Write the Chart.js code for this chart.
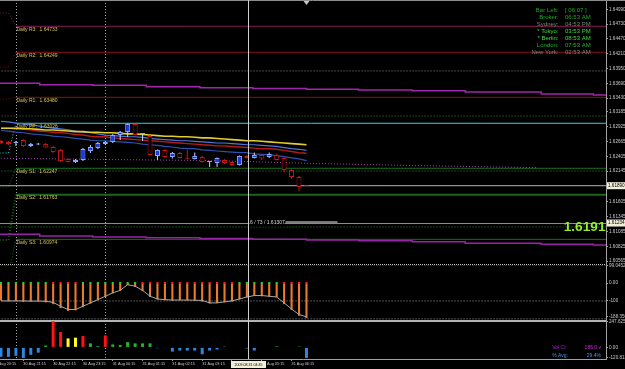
<!DOCTYPE html>
<html>
<head>
<meta charset="utf-8">
<script src="https://cdn.jsdelivr.net/npm/chart.js@4.4.0/dist/chart.umd.min.js"></script>
<style>
  html, body { margin: 0; padding: 0; background: #000; }
  canvas { display: block; background: #000; }
</style>
</head>
<body>
<canvas id="chart" width="625" height="369"></canvas>
<script>
// M15 candles, 30 Aug 20:30 -> 31 Aug 06:45 (bar index 0..41)
const barOpen  = [1.62676,1.62658,1.62640,1.62693,1.62588,1.62614,1.62623,1.62570,1.62518,1.62359,1.62307,1.62342,1.62500,1.62553,1.62623,1.62658,1.62781,1.62834,1.62974,1.62799,1.62763,1.62412,1.62518,1.62395,1.62465,1.62377,1.62359,1.62395,1.62307,1.62289,1.62342,1.62307,1.62254,1.62412,1.62377,1.62430,1.62395,1.62430,1.62377,1.62166,1.62043,1.61885];
const barHigh  = [1.62693,1.62676,1.62676,1.62711,1.62640,1.62640,1.62640,1.62588,1.62535,1.62368,1.62359,1.62553,1.62605,1.62658,1.62676,1.62799,1.62851,1.62983,1.62983,1.62807,1.62781,1.62526,1.62535,1.62482,1.62482,1.62518,1.62474,1.62412,1.62315,1.62386,1.62359,1.62315,1.62421,1.62430,1.62474,1.62438,1.62474,1.62447,1.62395,1.62184,1.62061,1.61894];
const barLow   = [1.62623,1.62605,1.62588,1.62570,1.62570,1.62605,1.62549,1.62465,1.62307,1.62298,1.62289,1.62325,1.62465,1.62535,1.62605,1.62640,1.62693,1.62746,1.62772,1.62676,1.62421,1.62342,1.62377,1.62368,1.62368,1.62351,1.62351,1.62298,1.62219,1.62219,1.62272,1.62237,1.62245,1.62368,1.62368,1.62342,1.62377,1.62333,1.62122,1.62008,1.61797,1.61876];
const barClose = [1.62640,1.62623,1.62642,1.62588,1.62623,1.62623,1.62561,1.62482,1.62325,1.62307,1.62342,1.62535,1.62570,1.62640,1.62658,1.62781,1.62834,1.62974,1.62781,1.62801,1.62430,1.62518,1.62395,1.62465,1.62377,1.62365,1.62412,1.62307,1.62309,1.62377,1.62289,1.62254,1.62412,1.62377,1.62430,1.62368,1.62447,1.62342,1.62166,1.62043,1.61867,1.61880];

// moving averages
const maYellow = [1.6290,1.6290,1.6290,1.6289,1.6289,1.6288,1.6287,1.6287,1.6286,1.6285,1.6284,1.6284,1.6283,1.6283,1.6282,1.6282,1.6281,1.6280,1.6280,1.6279,1.6278,1.6277,1.6276,1.6276,1.6275,1.6275,1.6274,1.6273,1.6273,1.6272,1.6271,1.6270,1.6269,1.6268,1.6268,1.6267,1.6266,1.6265,1.6264,1.6263,1.6262,1.6261];
const maRed    = [1.6290,1.6290,1.6289,1.6288,1.6287,1.6285,1.6284,1.6283,1.6282,1.6281,1.6279,1.6278,1.6276,1.6275,1.6275,1.6273,1.6272,1.6271,1.6270,1.6269,1.6268,1.6267,1.6266,1.6265,1.6264,1.6263,1.6262,1.6261,1.6260,1.6259,1.6259,1.6258,1.6257,1.6256,1.6255,1.6254,1.6254,1.6253,1.6251,1.6249,1.6247,1.6246];
const maBlueUp = [1.6302,1.6301,1.6299,1.6297,1.6296,1.6294,1.6292,1.6290,1.6289,1.6287,1.6285,1.6283,1.6282,1.6280,1.6278,1.6277,1.6276,1.6275,1.6275,1.6274,1.6272,1.6271,1.6270,1.6269,1.6268,1.6268,1.6267,1.6266,1.6265,1.6264,1.6264,1.6263,1.6262,1.6261,1.6261,1.6260,1.6259,1.6258,1.6256,1.6254,1.6253,1.6251];
const maBlueDn = [1.6286,1.6285,1.6283,1.6282,1.6280,1.6279,1.6278,1.6276,1.6275,1.6274,1.6272,1.6271,1.6269,1.6268,1.6268,1.6267,1.6266,1.6265,1.6264,1.6262,1.6261,1.6260,1.6258,1.6257,1.6255,1.6254,1.6254,1.6252,1.6251,1.6250,1.6249,1.6248,1.6247,1.6247,1.6245,1.6244,1.6243,1.6242,1.6240,1.6238,1.6236,1.6233];
const maPurpleBars = [0, 14, 27, 33, 41, 55, 72];
const maPurple     = [1.62372,1.62351,1.62333,1.62315,1.62284,1.62245,1.62207];

// higher timeframe band (stepped)
const bandBars  = [-0.2, 5.2, 12.3, 19.5, 26.7, 33.8, 41, 48, 55.2, 62.3, 72.5, 79.5];
const bandUpper = [1.63689,1.63665,1.63654,1.63630,1.63612,1.63598,1.63584,1.63572,1.63558,1.63537,1.63501,1.63484];
const bandLower = [1.61036,1.61006,1.60989,1.60975,1.60963,1.60948,1.60936,1.60922,1.60905,1.60878,1.60861,1.60848];

// daily pivots
const pivotNames = ['R3','R2','R1','PP','S1','S2','S3'];
const pivotPrev  = [1.64925,1.63976,1.63414,1.62465,1.61867,1.60936,1.60321];
const pivotNow   = [1.64691,1.64234,1.63443,1.62987,1.62196,1.61732,1.60948];
const pivotText  = ['1.64733','1.64249','1.63480','1.63026','1.62247','1.61763','1.60974'];

const grayLevels  = [1.63906];
const greenLevels = [1.63115,1.62148,1.61165];
const bidPrice   = 1.61890;
const crossPrice = 1.61234;
const crossBar   = 33.15;
const separatorBars = [2, 14];

// CCI window
const cciBars = [-98,-102,-100,-106,-104,-103,-108,-118,-140,-155,-152,-135,-115,-96,-78,-58,-44,-12,-22,-45,-78,-92,-96,-98,-96,-97,-99,-104,-114,-112,-108,-103,-92,-80,-72,-74,-76,-80,-118,-150,-182,-196];
const cciLine = [-100,-100,-100,-100,-101,-101,-102,-108,-130,-148,-148,-130,-111,-93,-74,-55,-41,-9,-18,-41,-74,-89,-93,-95,-95,-95,-96,-97,-111,-111,-105,-100,-89,-78,-70,-70,-74,-78,-111,-145,-176,-189];
const cciDir  = [1,1,1,1,1,1,1,-1,-1,-1,-1,1,1,1,1,1,1,1,1,-1,-1,-1,-1,-1,-1,-1,-1,-1,-1,-1,-1,-1,1,1,1,1,1,1,-1,-1,-1,-1];
const cciLevels = [100, -100, -200];

// volume window
const volValues = [-90,-90,-80,-100,-70,-50,18,247,145,85,92,108,38,12,114,28,22,50,38,38,38,-8,-6,-40,-30,-30,-30,-65,-30,-20,8,5,5,-10,-30,5,5,10,5,5,8,-100];
const volKind   = 'bbbbbbgrryyrggrggggggbbbbbbbbbgggbbggggggb'.split('');

// axis ticks
const priceTicks = [1.64990,1.64730,1.64470,1.64210,1.63950,1.63690,1.63430,1.63185,1.62925,1.62665,1.62405,1.62145,1.61885,1.61605,1.61345,1.61085,1.60825,1.60565];
const cciTicks   = [99.0452, 0, -100, -188.356];
const cciTickText = ['99.0452','0.00','-100','-188.356'];
const volTicks   = [247.6256, 0, -95];
const volTickText = ['247.6256','0.00','-120.813'];
const timeTickBars = [-1,3,7,11,15,19,23,27,31,35,39];
const timeLabels = ['30 Aug 20:15','30 Aug 21:15','30 Aug 22:15','30 Aug 23:15','31 Aug 00:15','31 Aug 01:15','31 Aug 02:15','31 Aug 03:15','31 Aug 04:15','31 Aug 05:15','31 Aug 06:15'];
const crossTimeText = '2009.08.31 04:45';

const clockNames  = ['Bar Left:','Broker:','Sydney:','* Tokyo:','* Berlin:','London:','New York:'];
const clockValues = ['[ 06:07 ]','06:53 AM','04:53 PM','03:53 PM','08:53 AM','07:53 AM','02:53 AM'];
const clockColors = ['#22aa22','#22aa22','#6e8a6e','#3ede3e','#3ede3e','#2aae2a','#788878'];

const FONT = '"Liberation Sans", Arial, sans-serif';
const xMin = -0.134, xMax = 81.2;
const idx = barOpen.map((_, i) => i);
const bull = i => barClose[i] >= barOpen[i];
const pts = (arr) => idx.map(i => ({ x: i, y: arr[i] }));
const flat = (v) => [{ x: xMin - 1, y: v }, { x: xMax + 1, y: v }];
const stepPts = (xs, ys) => xs.map((x, k) => ({ x, y: ys[k] })).concat([{ x: xMax + 1, y: ys[ys.length - 1] }]);

const pivotColors = ['#8a1a52','#861414','#861414','#36d2da','#1f6e1f','#1d641d','#1f6e1f'];
const volColors = { b: '#2f86e0', g: '#22b822', r: '#ff1414', y: '#ffff22' };

const lineDs = (data, color, width, extra) => Object.assign({
  type: 'line', yAxisID: 'y', data, borderColor: color, borderWidth: width,
  pointRadius: 0, tension: 0
}, extra || {});

const datasets = [
  { type: 'bar', yAxisID: 'y', grouped: false, categoryPercentage: 1, barPercentage: 0.67, minBarLength: 1,
    data: idx.map(i => ({ x: i, y: [barOpen[i], barClose[i]] })),
    backgroundColor: c => bull(c.dataIndex) ? '#1a3ce6' : '#000000',
    borderColor: c => bull(c.dataIndex) ? '#8aa4ff' : '#c81616',
    borderWidth: 1, borderSkipped: false },
  { type: 'bar', yAxisID: 'y', grouped: false, categoryPercentage: 1, barPercentage: 0.14,
    data: idx.map(i => ({ x: i, y: [barLow[i], barHigh[i]] })),
    backgroundColor: c => bull(c.dataIndex) ? '#bcd0f4' : '#c81616', borderWidth: 0 },
  lineDs(pts(maYellow), '#e4cc2c', 1.6),
  lineDs(pts(maBlueUp), '#4a78d8', 1.2),
  lineDs(pts(maRed), '#b41c1c', 1.4),
  lineDs(pts(maBlueDn), '#3050b0', 1.2),
  lineDs(maPurpleBars.map((b, k) => ({ x: b, y: maPurple[k] })), '#a040b0', 1, { borderDash: [1, 2] }),
  lineDs(stepPts(bandBars, bandUpper), '#a424ac', 1.5, { stepped: 'before' }),
  lineDs(stepPts(bandBars, bandLower), '#9a22a8', 1.5, { stepped: 'before' }),
  ...pivotNow.map((v, k) => lineDs(
    [{ x: -1, y: pivotPrev[k] }, { x: 1, y: pivotPrev[k] }, { x: 2, y: v }, { x: xMax + 1, y: v }],
    pivotColors[k], k === 5 ? 2 : 1,
    { segment: { borderDash: c => c.p1DataIndex <= 2 ? [1, 2] : undefined } })),
  ...grayLevels.map(v => lineDs(flat(v), '#8c8c8c', 1, { borderDash: [1, 2] })),
  ...greenLevels.map(v => lineDs(flat(v), '#2f8a2f', 1, { borderDash: [1, 2] })),
  lineDs(flat(bidPrice), '#b4b4b4', 1),

  // CCI
  { type: 'line', yAxisID: 'ycci', data: idx.map(i => ({ x: i, y: 0 })), showLine: false,
    pointStyle: 'rect', pointRadius: 1.5, pointBorderWidth: 0,
    pointBackgroundColor: c => cciDir[c.dataIndex] > 0 ? '#22d422' : '#ff2020' },
  { type: 'line', yAxisID: 'ycci', data: pts(cciLine), borderColor: '#a8a8a8', borderWidth: 1, pointRadius: 0 },
  { type: 'bar', yAxisID: 'ycci', grouped: false, categoryPercentage: 1, barPercentage: 0.28,
    data: pts(cciBars), backgroundColor: '#ec7a2c', borderWidth: 0 },
  ...cciLevels.map(v => ({ type: 'line', yAxisID: 'ycci', data: flat(v), borderColor: '#9a9a9a',
    borderWidth: 1, borderDash: [1, 2], pointRadius: 0 })),

  // volume
  { type: 'bar', yAxisID: 'yvol', grouped: false, categoryPercentage: 1, barPercentage: 0.4,
    data: pts(volValues), backgroundColor: c => volColors[volKind[c.dataIndex]], borderWidth: 0 }
];

function yAxis(weight, min, max, ticks, fmt) {
  return {
    type: 'linear', position: 'right', stack: 'panes', stackWeight: weight,
    min, max, bounds: 'data', offset: false,
    grid: { drawOnChartArea: false, tickLength: 2, color: '#a0a0a0' },
    border: { color: '#a0a0a0' },
    ticks: { autoSkip: false, padding: 1, color: '#c8c8c8', font: { family: FONT, size: 4.6 }, callback: fmt },
    afterBuildTicks: s => { s.ticks = ticks.map(v => ({ value: v })); },
    afterFit: s => { s.width = 19; s.paddingTop = 0; s.paddingBottom = 0; s.paddingLeft = 0; s.paddingRight = 0; }
  };
}

function hline(ctx, x1, y1, x2, y2) {
  ctx.beginPath(); ctx.moveTo(x1, y1); ctx.lineTo(x2, y2); ctx.stroke();
}
function txt(ctx, s, x, y, color, size, align, weight) {
  ctx.font = `${weight || ''} ${size}px ${FONT}`;
  ctx.fillStyle = color; ctx.textAlign = align || 'left'; ctx.textBaseline = 'middle';
  ctx.fillText(s, x, y);
}

const chrome = {
  id: 'chrome',
  beforeDatasetsDraw(chart) {
    const { ctx, chartArea: a, scales } = chart;
    ctx.save();
    ctx.lineWidth = 1;
    ctx.strokeStyle = '#a8a8a8';
    ctx.setLineDash([1, 2]);
    separatorBars.forEach(b => {
      const x = Math.round(scales.x.getPixelForValue(b)) + 0.5;
      hline(ctx, x, 0, x, a.bottom);
    });
    ctx.strokeStyle = '#c4c4c4';
    ctx.setLineDash([1, 1]);
    const pb = Math.round(scales.y.bottom) - 0.5;
    hline(ctx, a.left, pb, a.right, pb);
    ctx.setLineDash([]);
    ctx.strokeStyle = '#b4b4b4';
    ctx.lineWidth = 2;
    hline(ctx, a.left, scales.ycci.bottom, a.right, scales.ycci.bottom);
    ctx.lineWidth = 1;
    ctx.strokeStyle = '#8c8c8c';
    hline(ctx, 0, 0.5, chart.width, 0.5);
    ctx.restore();
  },
  afterDatasetsDraw(chart) {
    const { ctx, chartArea: a, scales } = chart;
    const xs = scales.x, yp = scales.y;
    ctx.save();

    // chart shift marker above last bar
    const lx = xs.getPixelForValue(barOpen.length - 1);
    ctx.fillStyle = '#c8c8c8';
    ctx.beginPath(); ctx.moveTo(lx - 3, 1); ctx.lineTo(lx + 3, 1); ctx.lineTo(lx, 5); ctx.closePath(); ctx.fill();

    // pivot labels
    const lx0 = xs.getPixelForValue(separatorBars[0]) + 0.5;
    pivotNow.forEach((v, k) => {
      txt(ctx, `Daily ${pivotNames[k]}:  ${pivotText[k]}`, lx0, yp.getPixelForValue(v) + 3, '#d6c44c', 5);
    });

    // crosshair
    const cx = Math.round(xs.getPixelForValue(crossBar)) + 0.5;
    const cy = Math.round(yp.getPixelForValue(crossPrice)) + 0.5;
    ctx.strokeStyle = '#8c8c8c';
    hline(ctx, a.left, cy, a.right, cy);
    ctx.strokeStyle = '#cfcfcf';
    hline(ctx, cx, 0, cx, a.bottom);
    ctx.fillStyle = '#000';
    ctx.fillRect(cx + 1, cy - 4, 35, 7);
    txt(ctx, '6 / 73 / 1.61307', cx + 1.5, cy - 0.5, '#d8d8d8', 5);
    ctx.strokeStyle = '#f0f0f0';
    hline(ctx, cx + 37, cy - 1.5, cx + 89, cy - 1.5);

    // clocks
    clockNames.forEach((n, k) => {
      const y = 10 + k * 7.05;
      txt(ctx, n, 558.5, y, clockColors[k], 6, 'right');
      txt(ctx, clockValues[k], 565, y, clockColors[k], 6, 'left');
    });

    // big price
    ctx.font = `bold 13.7px ${FONT}`;
    ctx.fillStyle = '#8ef02c'; ctx.textAlign = 'right'; ctx.textBaseline = 'alphabetic';
    ctx.fillText('1.6191', 605.5, 231);

    // volume info
    txt(ctx, 'Vol Ct:', 567, 348, '#a424c8', 5, 'right');
    txt(ctx, '185.0 v', 601, 348, '#d030d0', 5, 'right');
    txt(ctx, '% Avg:', 568, 355.5, '#4a90e0', 5, 'right');
    txt(ctx, '29.4%', 601, 355.5, '#4a90e0', 5, 'right');

    // highlighted axis labels
    [[bidPrice, bidPrice.toFixed(5)], [crossPrice, crossPrice.toFixed(5)]].forEach(([v, s]) => {
      const y = yp.getPixelForValue(v);
      ctx.fillStyle = '#f2eed8';
      ctx.fillRect(607, y - 3.5, 18, 7);
      txt(ctx, s, 608, y, '#000', 4.6);
    });
    ctx.fillStyle = '#f2eed8';
    ctx.fillRect(cx - 17.5, 361, 35, 7);
    txt(ctx, crossTimeText, cx, 364.5, '#000', 3.6, 'center');
    ctx.restore();
  }
};

new Chart(document.getElementById('chart'), {
  type: 'bar',
  data: { datasets },
  options: {
    responsive: false,
    devicePixelRatio: 1,
    animation: false,
    events: [],
    layout: { autoPadding: false, padding: { top: 1, left: 0, right: 0, bottom: 0 } },
    plugins: { legend: { display: false }, tooltip: { enabled: false } },
    scales: {
      x: {
        type: 'linear', min: xMin, max: xMax, bounds: 'data', offset: false,
        grid: { drawOnChartArea: false, offset: false, tickLength: 2, color: '#a0a0a0' },
        border: { color: '#a0a0a0' },
        ticks: { autoSkip: false, maxRotation: 0, align: 'start', padding: 1, color: '#c8c8c8',
          font: { family: FONT, size: 3.8 }, callback: (v, i) => timeLabels[i] },
        afterBuildTicks: s => { s.ticks = timeTickBars.map(v => ({ value: v })); },
        afterFit: s => { s.height = 10; s.paddingLeft = 0; s.paddingRight = 0; }
      },
      y: yAxis(264, 1.60497, 1.65135, priceTicks, (v, i) => priceTicks[i].toFixed(5)),
      ycci: yAxis(56, -212, 100.5, cciTicks, (v, i) => cciTickText[i]),
      yvol: yAxis(38, -110, 250, volTicks, (v, i) => volTickText[i])
    }
  },
  plugins: [chrome]
});
</script>
</body>
</html>
